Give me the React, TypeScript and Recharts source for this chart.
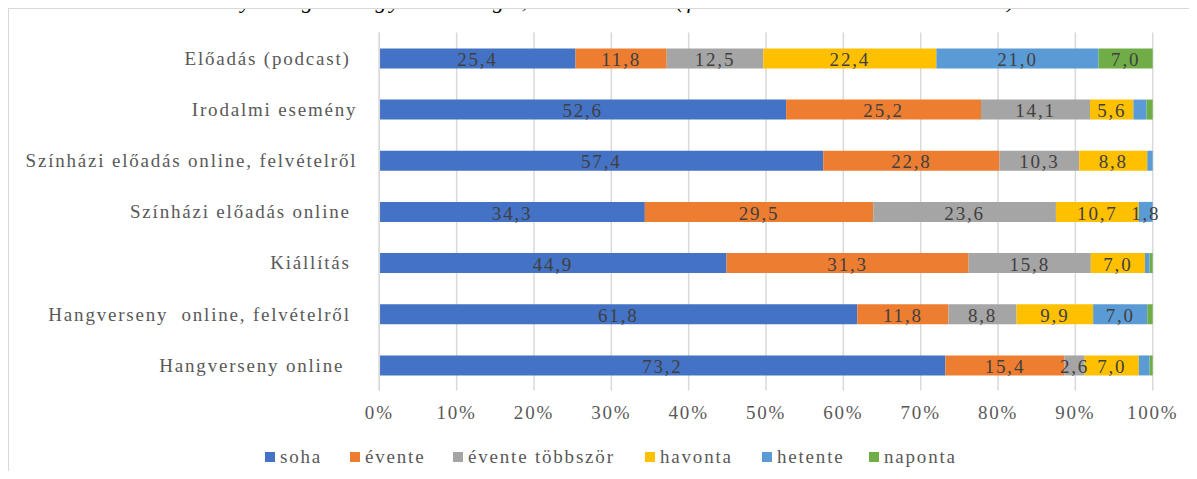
import React from 'react';
import { BarChart, Bar, XAxis, YAxis, CartesianGrid, LabelList } from 'recharts';

const FONT = '"Liberation Serif", "Times New Roman", serif';
const TEXT_COLOR = '#595959';
const LABEL_COLOR = '#404040';
const GRID_COLOR = '#d9d9d9';

const titleText = 'Az online rendezvénylátogatás gyakorisága, %. N= 171 (forrás: OTEMIK adatbázis)';

const categories = [
  'Előadás (podcast) ',
  'Irodalmi esemény',
  'Színházi előadás online, felvételről',
  'Színházi előadás online ',
  'Kiállítás ',
  'Hangverseny  online, felvételről ',
  'Hangverseny online  ',
];

const seriesKeys = ['soha', 'evente', 'tobbszor', 'havonta', 'hetente', 'naponta'];
const seriesNames = ['soha', 'évente', 'évente többször', 'havonta', 'hetente', 'naponta'];
const seriesColors = ['#4472C4', '#ED7D31', '#A5A5A5', '#FFC000', '#5B9BD5', '#70AD47'];

const soha = [25.4, 52.6, 57.4, 34.3, 44.9, 61.8, 73.2];
const evente = [11.8, 25.2, 22.8, 29.5, 31.3, 11.8, 15.4];
const tobbszor = [12.5, 14.1, 10.3, 23.6, 15.8, 8.8, 2.6];
const havonta = [22.4, 5.6, 8.8, 10.7, 7.0, 9.9, 7.0];
const hetente = [21.0, 1.7, 0.7, 1.8, 0.6, 7.0, 1.4];
const naponta = [7.0, 0.8, 0, 0, 0.4, 0.7, 0.4];

const seriesValues = [soha, evente, tobbszor, havonta, hetente, naponta];

const xTicks = [0, 0.1, 0.2, 0.3, 0.4, 0.5, 0.6, 0.7, 0.8, 0.9, 1];

// legend item left edges (layout, relative to the chart frame)
const legendLefts = [257, 342, 445, 637, 754, 861];

const data = categories.map((c, i) => {
  const row: Record<string, any> = { category: c };
  seriesKeys.forEach((k, j) => {
    row[k] = seriesValues[j][i];
  });
  return row;
});

const FS = 19;
const LS = 1.8;

const YTick = (props: any) => {
  const { x, y, payload } = props;
  return (
    <text
      x={x}
      y={y}
      dy="0.355em"
      textAnchor="end"
      fill={TEXT_COLOR}
      fontFamily={FONT}
      fontSize={FS}
      letterSpacing={LS}
      xmlSpace="preserve"
      style={{ whiteSpace: 'pre' }}
    >
      {payload.value}
    </text>
  );
};

const XTick = (props: any) => {
  const { x, y, payload } = props;
  return (
    <text
      x={x}
      y={y}
      dy="0.71em"
      textAnchor="middle"
      fill={TEXT_COLOR}
      fontFamily={FONT}
      fontSize={FS}
      letterSpacing={LS}
    >
      {`${Math.round(payload.value * 100)}%`}
    </text>
  );
};

const renderLabel = (props: any) => {
  const { x, y, width, height, value } = props;
  if (value == null || value < 1.8) return null;
  return (
    <text
      x={x + width / 2}
      y={y + height / 2}
      dy="0.4em"
      textAnchor="middle"
      fill={LABEL_COLOR}
      fontFamily={FONT}
      fontSize={FS}
      letterSpacing={LS}
    >
      {Number(value).toFixed(1).replace('.', ',')}
    </text>
  );
};

export default function App() {
  return (
    <div style={{ position: 'relative', width: 1189, height: 463 }}>
      <div
        style={{
          position: 'absolute',
          left: -8,
          top: -18,
          whiteSpace: 'nowrap',
          fontFamily: FONT,
          fontStyle: 'italic',
          fontSize: 22,
          lineHeight: '22px',
          letterSpacing: 3.4,
          color: '#000',
        }}
      >
        {titleText}
      </div>
      <div style={{ position: 'absolute', left: 0, top: 0, width: 1189, height: 463, overflow: 'hidden' }}>
        <div
          style={{
            position: 'absolute',
            left: 0,
            top: 0,
            width: 1196,
            height: 480,
            border: `1.5px solid ${GRID_COLOR}`,
            boxSizing: 'border-box',
          }}
        />
        <div style={{ position: 'absolute', left: 0, top: 0 }}>
          <BarChart
            width={1189}
            height={463}
            data={data}
            layout="vertical"
            stackOffset="expand"
            margin={{ top: 24.4, right: 44.3, bottom: 50.4, left: 0 }}
            barSize={20}
          >
            <CartesianGrid horizontal={false} stroke={GRID_COLOR} strokeWidth={1.5} />
            <XAxis
              type="number"
              domain={[0, 1]}
              ticks={xTicks}
              axisLine={false}
              tickLine={false}
              tickSize={0}
              tickMargin={15}
              height={30}
              tick={<XTick />}
              interval={0}
            />
            <YAxis
              type="category"
              dataKey="category"
              width={371.3}
              axisLine={{ stroke: GRID_COLOR, strokeWidth: 1.5 }}
              tickLine={false}
              tickSize={0}
              tickMargin={22}
              tick={<YTick />}
              interval={0}
            />
            {seriesKeys.map((k, j) => (
              <Bar
                key={k}
                dataKey={k}
                name={seriesNames[j]}
                stackId="a"
                fill={seriesColors[j]}
                isAnimationActive={false}
              >
                <LabelList dataKey={k} content={renderLabel} />
              </Bar>
            ))}
          </BarChart>
        </div>
        {seriesNames.map((n, j) => (
          <div
            key={n}
            style={{
              position: 'absolute',
              left: legendLefts[j],
              top: 437,
              height: 24,
              display: 'flex',
              alignItems: 'center',
              fontFamily: FONT,
              fontSize: FS,
              letterSpacing: LS,
              color: TEXT_COLOR,
              whiteSpace: 'nowrap',
            }}
          >
            <span
              style={{
                display: 'inline-block',
                width: 10,
                height: 10,
                background: seriesColors[j],
                marginRight: 5,
              }}
            />
            <span>{n}</span>
          </div>
        ))}
      </div>
    </div>
  );
}
